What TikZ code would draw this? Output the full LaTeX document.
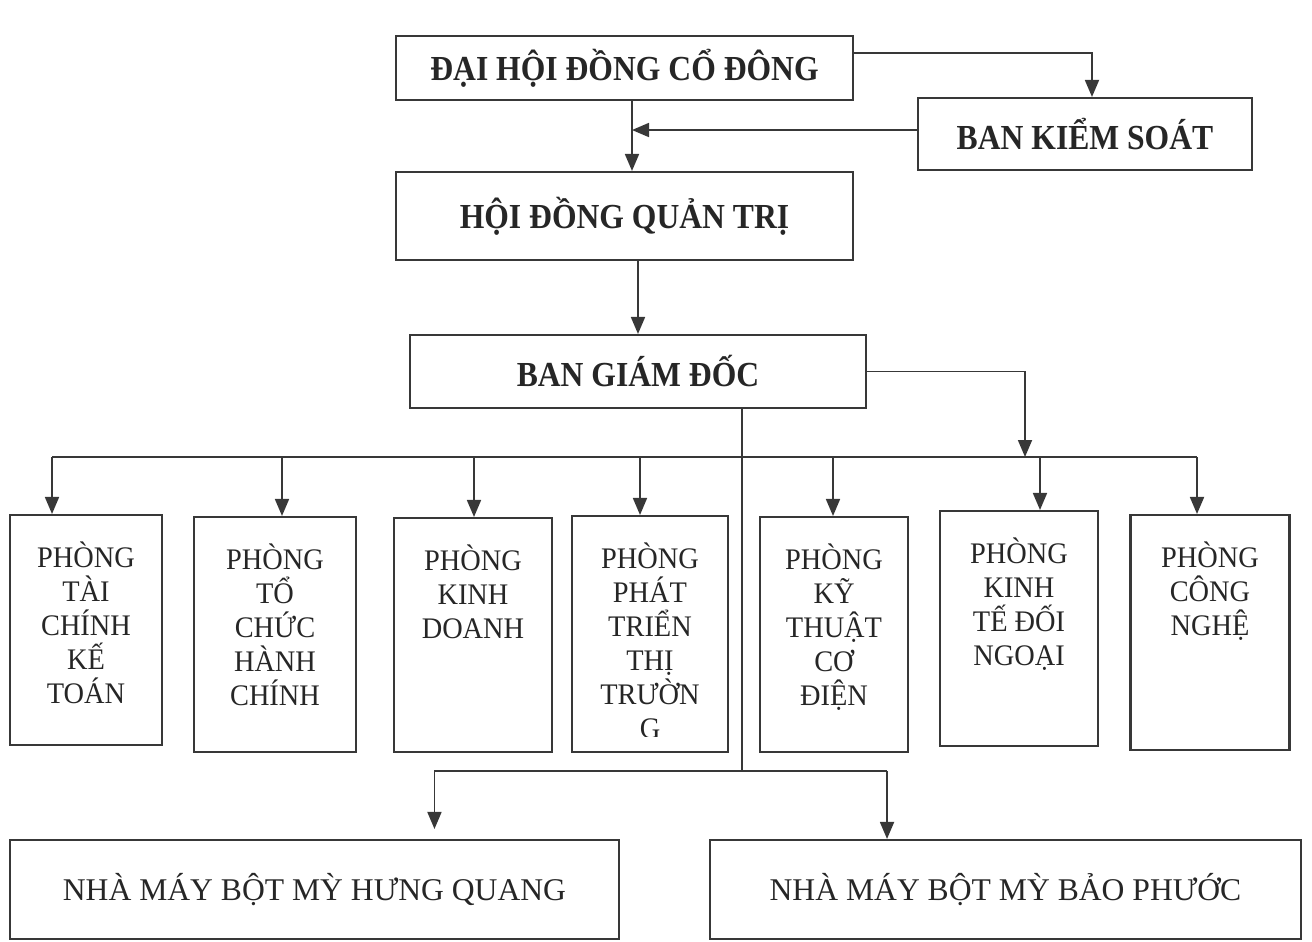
\documentclass[tikz,border=0pt]{standalone}
\usepackage{fontspec}
\setmainfont{Liberation Serif}
\newfontfamily\estrecha[FakeStretch = 0.9]{Liberation Serif}
\newfontfamily\angosta[FakeStretch = 0.95]{Liberation Serif}
\usetikzlibrary{positioning, arrows.meta}
\definecolor{tinta}{gray}{0.22}

\begin{document}
\begin{tikzpicture}[
	x = 0.02cm, y = -0.02cm,
	caja/.style = {draw = tinta, line width = 1.2pt, inner sep = 0pt, text = black!85},
	jefe/.style = {caja, font = \estrecha\bfseries\fontsize{20}{24}\selectfont},
	fabrica/.style = {caja, font = \fontsize{18}{22}\selectfont},
	texto/.style = {align = center, inner sep = 0pt, text = black!85,
		font = \angosta\fontsize{17}{19.3}\selectfont},
	linea/.style = {draw = tinta, line width = 1pt},
	flecha/.style = {linea, -{Triangle[length = 3.4mm, width = 2.8mm]}},
]

	% márgenes del dibujo
	\useasboundingbox (0,0) rectangle (1312,941);

	% órganos de dirección
	\node[jefe, minimum width = 9.14cm, minimum height = 1.28cm]
		(dhdcd) at (624.5,68) {ĐẠI HỘI ĐỒNG CỔ ĐÔNG};
	\node[jefe, minimum width = 6.68cm, minimum height = 1.44cm]
		(bks) at (1085,134) {BAN KIỂM SOÁT};
	\node[jefe, minimum width = 9.14cm, minimum height = 1.76cm]
		(hdqt) at (624.5,216) {HỘI ĐỒNG QUẢN TRỊ};
	\node[jefe, minimum width = 9.12cm, minimum height = 1.46cm]
		(bgd) at (638,371.5) {BAN GIÁM ĐỐC};

	% flechas entre los órganos
	\coordinate (k1) at ([yshift = 0.3cm]dhdcd.east);
	\coordinate (k2) at ([xshift = 1.5mm]dhdcd.south);
	\coordinate (k3) at ([yshift = 0.08cm]bks.west);
	\draw[flecha] (k1) -| ([xshift = 1.4mm]bks.north);
	\draw[flecha] (k2) -- ([xshift = 1.5mm]hdqt.north);
	\draw[flecha] (k3) -- (k3 -| k2);
	\draw[flecha] (hdqt.south -| bgd.north) -- (bgd.north);

	% phòng ban
	\foreach \i/\x/\y/\w/\h/\dx/\t in {
		1/86/630/3.04/4.60/-0.68/{PHÒNG\\TÀI\\CHÍNH\\KẾ\\TOÁN},
		2/275/634.5/3.24/4.70/0.14/{PHÒNG\\TỔ\\CHỨC\\HÀNH\\CHÍNH},
		3/473/635/3.16/4.68/0.02/{PHÒNG\\KINH\\DOANH},
		4/650/634/3.12/4.72/-0.2/{PHÒNG\\PHÁT\\TRIỂN\\THỊ\\TRƯỜN\\G},
		5/834/634.5/2.96/4.70/-0.02/{PHÒNG\\KỸ\\THUẬT\\CƠ\\ĐIỆN},
		6/1019/628.5/3.16/4.70/0.42/{PHÒNG\\KINH\\TẾ ĐỐI\\NGOẠI},
		7/1210/632.5/3.18/4.70/-0.26/{PHÒNG\\CÔNG\\NGHỆ}}
	{
		\node[caja, minimum width = \w cm, minimum height = \h cm]
			(p\i) at (\x,\y) {};
		% el texto que no cabe queda cortado
		\begin{scope}
			\clip (p\i.north west) rectangle ([yshift = 0.34cm]p\i.south east);
			\node[texto, below = 5.5mm of p\i.north] (t\i) {\t};
		\end{scope}
		\coordinate (a\i) at ([xshift = \dx cm]p\i.north);
	}

	% reparto hacia las phòng ban
	\coordinate (j1) at (1025,457);
	\draw[flecha] (bgd.east) -| (j1);
	\draw[linea] (a1 |- j1) -- (a7 |- j1);
	\foreach \i in {1,...,7}
		\draw[flecha] (a\i |- j1) -- (a\i);

	% nhà máy
	\node[fabrica, minimum width = 12.18cm, minimum height = 1.98cm]
		(nm1) at (314.5,889.5) {NHÀ MÁY BỘT MỲ HƯNG QUANG};
	\node[fabrica, minimum width = 11.82cm, minimum height = 1.98cm]
		(nm2) at (1005.5,889.5) {NHÀ MÁY BỘT MỲ BẢO PHƯỚC};

	\coordinate (b1) at ([xshift = 2.4cm]nm1.north);
	\coordinate (b2) at ([xshift = -2.37cm]nm2.north);
	\coordinate (j2) at (742,771);
	\draw[tinta, line width = 0.6pt] (bgd.south -| j2) -- (j2);
	\draw[linea] (b1 |- j2) -- (b2 |- j2);
	\draw[flecha, shorten >= 2mm] (b1 |- j2) -- (b1);
	\draw[flecha] (b2 |- j2) -- (b2);

\end{tikzpicture}
\end{document}
